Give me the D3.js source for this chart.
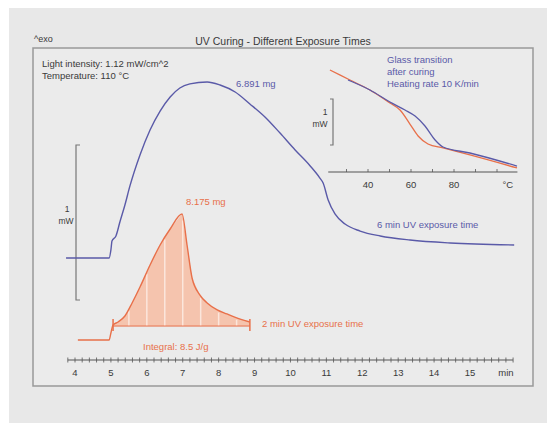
<!DOCTYPE html>
<html>
<head>
<meta charset="utf-8">
<script src="https://cdn.jsdelivr.net/npm/d3@7"></script>
<style>
  body { margin: 0; background: #fff; }
  text { font-family: "Liberation Sans", Arial, sans-serif; }
</style>
</head>
<body>
<div id="container"></div>
<script>
// Data
// 6 min exposure: time (min) / heat flow (mW, with offset)
const blueTime = [3.75, 4.95, 5.0, 5.03, 5.14, 5.25, 5.39, 5.53, 5.81, 6.09, 6.37, 6.65, 6.92, 7.2, 7.68, 8.04, 8.46, 8.87, 9.29, 9.71, 10.13, 10.55, 10.82, 10.91, 11.05, 11.24, 11.52, 11.94, 12.5, 13.33, 14.45, 16.23];
const blueFlow = [0.529, 0.529, 0.581, 0.639, 0.671, 0.761, 0.871, 0.994, 1.194, 1.355, 1.477, 1.568, 1.626, 1.652, 1.665, 1.645, 1.6, 1.523, 1.439, 1.335, 1.226, 1.123, 1.045, 1.013, 0.903, 0.813, 0.748, 0.703, 0.671, 0.645, 0.626, 0.613];

// 2 min exposure
const orangeTime = [4.08, 4.95, 5.0, 5.06, 5.2, 5.39, 5.59, 5.81, 6.09, 6.37, 6.65, 6.98, 7.12, 7.26, 7.48, 7.68, 7.96, 8.23, 8.6, 8.87];
const orangeFlow = [0, 0, 0.045, 0.097, 0.116, 0.155, 0.239, 0.342, 0.484, 0.613, 0.716, 0.813, 0.613, 0.4, 0.29, 0.239, 0.194, 0.168, 0.135, 0.116];
const integralLimits = [5.06, 8.87];
const integralBase = 0.09;
const hatchTimes = [5.5, 6, 6.5, 7, 7.5, 8, 8.5];

// inset: glass transition after curing
const insetOrangeT = [22.3, 31.6, 40.9, 50.2, 54.9, 59.5, 63.3, 67.9, 74.9, 87.4, 109.3];
const insetOrangeF = [2.217, 2.0, 1.783, 1.5, 1.348, 1.043, 0.783, 0.609, 0.522, 0.37, 0.087];
const insetBlueT = [30.7, 40.9, 50.2, 57.2, 61.9, 66.5, 71.2, 74.9, 87.4, 109.3];
const insetBlueF = [2.0, 1.783, 1.522, 1.348, 1.217, 1.0, 0.696, 0.543, 0.413, 0.13];

const timeTicks = [4, 5, 6, 7, 8, 9, 10, 11, 12, 13, 14, 15, 16];
const timeLabels = ["4", "5", "6", "7", "8", "9", "10", "11", "12", "13", "14", "15", "min"];
const tempTicks = [40, 60, 80, 105];
const tempLabels = ["40", "60", "80", "°C"];

const width = 547;
const height = 423;
const blue = "#5a5aa8";
const orange = "#e8704a";
const orangeFill = "#f5c4ae";
const textCol = "#3a3a3a";

const svg = d3
  .select("#container")
  .append("svg")
  .attr("width", width)
  .attr("height", height);

// background panel + frame
svg.append("rect").attr("x", 9).attr("y", 8).attr("width", width - 9).attr("height", height - 8).attr("fill", "#e8e8e8");
svg.append("rect").attr("x", 33).attr("y", 48).attr("width", 500).attr("height", 338)
  .attr("fill", "#ebebeb").attr("stroke", "#999").attr("stroke-width", 1.5);

// Scales
const x = d3.scaleLinear().domain([4, 15]).range([75, 470]);
const y = d3.scaleLinear().domain([0, 2]).range([340, 30]);
const xi = d3.scaleLinear().domain([40, 80]).range([368, 454]);
const yi = d3.scaleLinear().domain([0, 1]).range([172, 126]);

// Titles
svg.append("text").attr("x", 283).attr("y", 45).attr("text-anchor", "middle")
  .attr("font-size", 10.5).attr("fill", textCol).text("UV Curing - Different Exposure Times");
svg.append("text").attr("x", 34).attr("y", 42).attr("font-size", 9).attr("fill", textCol).text("^exo");
svg.append("text").attr("x", 42).attr("y", 67).attr("font-size", 9.5).attr("fill", textCol).text("Light intensity: 1.12 mW/cm^2");
svg.append("text").attr("x", 42).attr("y", 79).attr("font-size", 9.5).attr("fill", textCol).text("Temperature: 110 °C");

// main time axis
const minorTicks = d3.range(38, 163, 2).map((d) => d / 10);
const axisG = svg.append("g").attr("transform", "translate(0,360)");
axisG.append("line").attr("x1", x(3.8)).attr("x2", x(16.2)).attr("stroke", "#555").attr("stroke-width", 1.2);
axisG.selectAll("line.tk").data(minorTicks).enter().append("line").attr("class", "tk")
  .attr("x1", (d) => x(d)).attr("x2", (d) => x(d)).attr("y1", -2.5).attr("y2", 2.5)
  .attr("stroke", "#555").attr("stroke-width", 0.8);
axisG.selectAll("text").data(timeTicks).enter().append("text")
  .attr("x", (d) => x(d)).attr("y", 16).attr("text-anchor", "middle")
  .attr("font-size", 9.5).attr("fill", textCol).text((d, i) => timeLabels[i]);

// 1 mW scale bar (main)
const barMain = [0.258, 1.258];
svg.append("path")
  .attr("d", `M80,${y(barMain[1])}H76V${y(barMain[0])}H80`)
  .attr("fill", "none").attr("stroke", "#777").attr("stroke-width", 1.2);
svg.append("text").attr("x", 67).attr("y", 212).attr("text-anchor", "middle").attr("font-size", 8.5).attr("fill", textCol).text("1");
svg.append("text").attr("x", 66).attr("y", 224).attr("text-anchor", "middle").attr("font-size", 8.5).attr("fill", textCol).text("mW");

// integral area of 2 min curve
const orangePts = orangeTime.map((t, i) => [t, orangeFlow[i]]);
const areaPts = orangePts.filter((p) => p[0] >= integralLimits[0] && p[0] <= integralLimits[1]);
svg.append("path").datum(areaPts)
  .attr("d", d3.area().x((d) => x(d[0])).y0(y(integralBase)).y1((d) => y(d[1])))
  .attr("fill", orangeFill);
// white hatch lines inside the area
const interp = (t) => {
  for (let i = 1; i < orangePts.length; i++) {
    if (t <= orangePts[i][0]) {
      const a = orangePts[i - 1], b = orangePts[i];
      return a[1] + (b[1] - a[1]) * (t - a[0]) / (b[0] - a[0]);
    }
  }
  return 0;
};
svg.selectAll("line.hatch").data(hatchTimes).enter().append("line").attr("class", "hatch")
  .attr("x1", (d) => x(d)).attr("x2", (d) => x(d))
  .attr("y1", y(integralBase)).attr("y2", (d) => y(interp(d)) + 2)
  .attr("stroke", "#fbe6dc").attr("stroke-width", 1.5);
svg.append("line").attr("x1", x(integralLimits[0])).attr("x2", x(integralLimits[1]))
  .attr("y1", y(integralBase)).attr("y2", y(integralBase)).attr("stroke", orange).attr("stroke-width", 1);
svg.selectAll("line.lim").data(integralLimits).enter().append("line").attr("class", "lim")
  .attr("x1", (d) => x(d)).attr("x2", (d) => x(d))
  .attr("y1", y(integralBase) - 7).attr("y2", y(integralBase) + 5)
  .attr("stroke", orange).attr("stroke-width", 1.5);

const line = d3.line().x((d) => x(d[0])).y((d) => y(d[1])).curve(d3.curveMonotoneX);

svg.append("path").datum(orangePts).attr("d", line)
  .attr("fill", "none").attr("stroke", orange).attr("stroke-width", 1.4);
svg.append("path").datum(blueTime.map((t, i) => [t, blueFlow[i]])).attr("d", line)
  .attr("fill", "none").attr("stroke", blue).attr("stroke-width", 1.4);

// annotations
svg.append("text").attr("x", 236).attr("y", 87).attr("font-size", 9.5).attr("fill", blue).text("6.891 mg");
svg.append("text").attr("x", 186).attr("y", 205).attr("font-size", 9.5).attr("fill", orange).text("8.175 mg");
svg.append("text").attr("x", 377).attr("y", 228).attr("font-size", 9.5).attr("fill", blue).text("6 min UV exposure time");
svg.append("text").attr("x", 262).attr("y", 327).attr("font-size", 9.5).attr("fill", orange).text("2 min UV exposure time");
svg.append("text").attr("x", 143).attr("y", 350).attr("font-size", 9.5).attr("fill", orange).text("Integral: 8.5 J/g");

// Inset
svg.append("text").attr("x", 387).attr("y", 63).attr("font-size", 9.5).attr("fill", blue).text("Glass transition");
svg.append("text").attr("x", 387).attr("y", 75).attr("font-size", 9.5).attr("fill", blue).text("after curing");
svg.append("text").attr("x", 387).attr("y", 87).attr("font-size", 9.5).attr("fill", blue).text("Heating rate 10 K/min");

const insetAxis = svg.append("g").attr("transform", "translate(0,172)");
insetAxis.append("line").attr("x1", xi(21.5)).attr("x2", xi(109.5)).attr("stroke", "#555").attr("stroke-width", 1.2);
insetAxis.selectAll("line.tk").data(d3.range(30, 101, 10)).enter().append("line").attr("class", "tk")
  .attr("x1", (d) => xi(d)).attr("x2", (d) => xi(d)).attr("y1", -3).attr("y2", 0)
  .attr("stroke", "#555").attr("stroke-width", 0.8);
insetAxis.selectAll("text").data(tempTicks).enter().append("text")
  .attr("x", (d) => xi(d)).attr("y", 16).attr("text-anchor", "middle")
  .attr("font-size", 9.5).attr("fill", textCol).text((d, i) => tempLabels[i]);

const barInset = [0.587, 1.587];
svg.append("path")
  .attr("d", `M330,${yi(barInset[1])}H333V${yi(barInset[0])}H330`)
  .attr("fill", "none").attr("stroke", "#777").attr("stroke-width", 1.2);
svg.append("text").attr("x", 325).attr("y", 115).attr("text-anchor", "middle").attr("font-size", 8.5).attr("fill", textCol).text("1");
svg.append("text").attr("x", 320).attr("y", 127).attr("text-anchor", "middle").attr("font-size", 8.5).attr("fill", textCol).text("mW");

const lineI = d3.line().x((d) => xi(d[0])).y((d) => yi(d[1])).curve(d3.curveMonotoneX);
svg.append("path").datum(insetOrangeT.map((t, i) => [t, insetOrangeF[i]])).attr("d", lineI)
  .attr("fill", "none").attr("stroke", orange).attr("stroke-width", 1.3);
svg.append("path").datum(insetBlueT.map((t, i) => [t, insetBlueF[i]])).attr("d", lineI)
  .attr("fill", "none").attr("stroke", blue).attr("stroke-width", 1.3);
</script>
</body>
</html>
